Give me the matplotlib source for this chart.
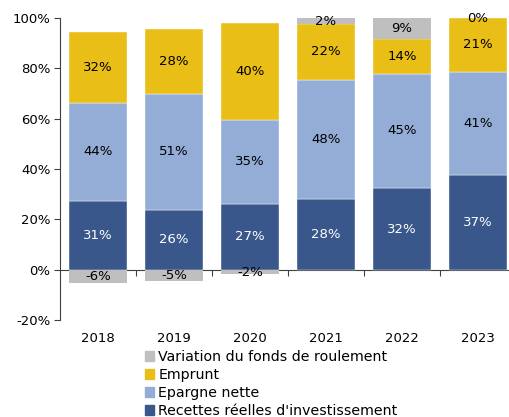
import matplotlib.pyplot as plt
from matplotlib.patches import Patch
from matplotlib.ticker import FuncFormatter
import numpy as np

plt.rcParams['font.family'] = ['DejaVu Sans']

years = ["2018", "2019", "2020", "2021", "2022", "2023"]

# bar heights (share of total, %)
recettesVec = [27.4, 23.6, 26.0, 28.0, 32.3, 37.6]
epargneVec = [38.9, 46.4, 33.6, 47.4, 45.6, 41.1]
empruntVec = [28.3, 25.5, 38.5, 22.2, 13.8, 21.3]
fdrVec = [-5.3, -4.5, -1.9, 2.4, 8.3, 0.0]

# printed labels
recettesLbl = [31, 26, 27, 28, 32, 37]
epargneLbl = [44, 51, 35, 48, 45, 41]
empruntLbl = [32, 28, 40, 22, 14, 21]
fdrLbl = [-6, -5, -2, 2, 9, 0]

colDark = "#39578a"
colLight = "#94add6"
colYellow = "#e9be16"
colGrey = "#bfbfbf"

fig = plt.figure(figsize=(5.10, 4.17), dpi=100)
ax = fig.add_axes([60/510, 97/417, 456/510, 302/417])

x = np.arange(len(years))
w = 0.76

recettes = np.array(recettesVec)
epargne = np.array(epargneVec)
emprunt = np.array(empruntVec)
fdr = np.array(fdrVec)

bot2 = recettes
bot3 = recettes + epargne
bot4 = np.where(fdr < 0, 0, bot3 + emprunt)

ax.bar(x, recettes, w, color=colDark, edgecolor="white", linewidth=0.3)
ax.bar(x, epargne, w, bottom=bot2, color=colLight, edgecolor="white", linewidth=0.3)
ax.bar(x, emprunt, w, bottom=bot3, color=colYellow, edgecolor="white", linewidth=0.3)
ax.bar(x, fdr, w, bottom=bot4, color=colGrey, linewidth=0)

fs = 9.5
for i in range(len(years)):
    ax.text(x[i], recettes[i] / 2, f"{recettesLbl[i]}%", ha="center", va="center",
            color="white", fontsize=fs)
    ax.text(x[i], bot2[i] + epargne[i] / 2, f"{epargneLbl[i]}%", ha="center",
            va="center", color="black", fontsize=fs)
    ax.text(x[i], bot3[i] + emprunt[i] / 2, f"{empruntLbl[i]}%", ha="center",
            va="center", color="black", fontsize=fs)
    ax.text(x[i], bot4[i] + fdr[i] / 2, f"{fdrLbl[i]}%", ha="center",
            va="center", color="black", fontsize=fs)

ax.set_xlim(-0.5, len(years) - 0.5)
ax.set_ylim(-20, 100)
ax.set_yticks(np.arange(-20, 101, 20))
ax.yaxis.set_major_formatter(FuncFormatter(lambda v, p: f"{v:.0f}%"))
ax.tick_params(axis="y", labelsize=fs, length=4, color="#404040", pad=3)

for s in ["top", "right", "bottom"]:
    ax.spines[s].set_visible(False)
ax.spines["left"].set_color("#404040")
ax.spines["left"].set_linewidth(0.8)

# year labels under the plot area
ax.set_xticks(x, years)
ax.tick_params(axis="x", length=0, labelsize=fs, pad=9)

# zero line with separators
sec = ax.secondary_xaxis(20/120)
sec.set_xticks(x[:-1] + 0.5, [""] * (len(years) - 1))
sec.tick_params(axis="x", length=4, color="#404040")
sec.spines["bottom"].set_color("#404040")
sec.spines["bottom"].set_linewidth(0.8)

handles = [Patch(color=colGrey), Patch(color=colYellow),
           Patch(color=colLight), Patch(color=colDark)]
names = ["Variation du fonds de roulement", "Emprunt", "Epargne nette",
         "Recettes réelles d'investissement"]
fig.legend(handles, names, loc="upper left", bbox_to_anchor=(145/510, 1 - 350/417),
           frameon=False, fontsize=10.2, handlelength=0.65, handleheight=0.65,
           handletextpad=0.3, labelspacing=0.28, borderpad=0, borderaxespad=0)

fig.savefig("out.png", dpi=100)
